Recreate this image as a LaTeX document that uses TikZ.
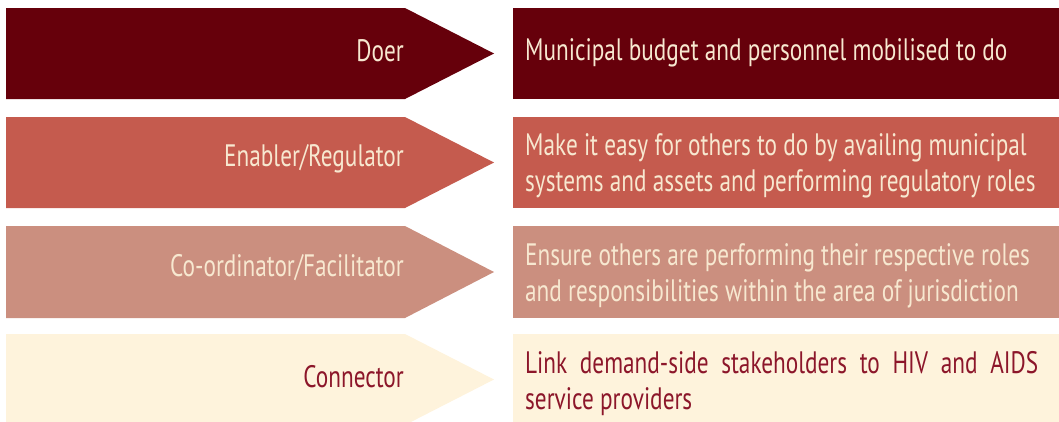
\documentclass[tikz,border=0pt]{standalone}
\usepackage{fontspec}
\setmainfont{PT Sans}[FakeStretch=0.75]
\usetikzlibrary{positioning}
\definecolor{DoerRed}{RGB}{102,0,11}
\definecolor{EnablerRed}{RGB}{197,91,78}
\definecolor{CoordPink}{RGB}{203,143,127}
\definecolor{ConnCream}{RGB}{254,243,220}
\definecolor{LabelCream}{RGB}{247,232,208}
\definecolor{LabelRed}{RGB}{140,22,42}

\tikzset{
  role/.style={anchor=east, inner sep=0pt, font=\fontsize{31}{36}\selectfont},
  task/.style={anchor=west, inner sep=0pt, align=left, font=\fontsize{31}{36}\selectfont},
}

\begin{document}
\begin{tikzpicture}[x=1pt,y=-1pt]
\useasboundingbox (0,0) rectangle (1059,421);
% role arrows
\fill[DoerRed] (6,8) -- (405,8) -- (494,53.5) -- (405,99) -- (6,99) -- cycle;
\fill[EnablerRed] (6,117) -- (405,117) -- (494,162.5) -- (405,208) -- (6,208) -- cycle;
\fill[CoordPink] (6,226) -- (405,226) -- (494,272) -- (405,318) -- (6,318) -- cycle;
\fill[ConnCream] (6,334) -- (405,334) -- (494,379.5) -- (405,425) -- (6,425) -- cycle;
% task boxes
\fill[DoerRed] (513,8) rectangle (1059,99);
\fill[EnablerRed] (513,117) rectangle (1059,208);
\fill[CoordPink] (513,226) rectangle (1059,318);
\fill[ConnCream] (513,334) rectangle (1059,425);

\node[role, text=LabelCream] (doer) at (404,51) {Doer};
\node[role, text=LabelCream] (enabler) at (404,159) {Enabler/Regulator};
\node[role, text=LabelCream] (coord) at (404,268) {Co-ordinator/Facilitator};
\node[role, text=LabelRed] (conn) at (404,377) {Connector};

\node[task, text=LabelCream] (doertask) at (525,52.5)
  {Municipal budget and personnel mobilised to do};
\node[task, text=LabelCream] (enablertask) at (525,166)
  {Make it easy for others to do by availing municipal\\
   systems and assets and performing regulatory roles};
\node[task, text=LabelCream] (coordtask) at (525,276)
  {Ensure others are performing their respective roles\\
   and responsibilities within the area of jurisdiction};
\node[task, text=LabelRed] (conntask) at (525,384)
  {\makebox[513pt][s]{Link demand-side stakeholders to HIV and AIDS}\\
   service providers};
\end{tikzpicture}
\end{document}
